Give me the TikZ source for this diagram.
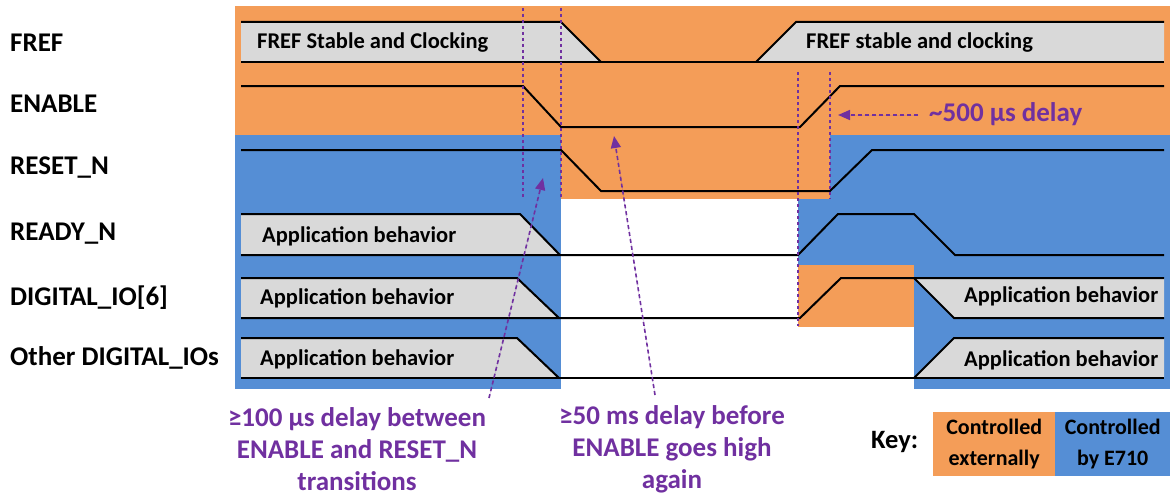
\documentclass[tikz,border=0pt]{standalone}
\usepackage{fontspec}
\setmainfont{Carlito}
\usetikzlibrary{arrows.meta}
\definecolor{extorange}{RGB}{244,157,88}
\definecolor{e710blue}{RGB}{85,142,213}
\definecolor{bandgray}{RGB}{217,217,217}
\definecolor{notepurple}{RGB}{112,48,160}
\begin{document}
\begin{tikzpicture}[x=1pt,y=-1pt,
  wave/.style={line width=2pt, line join=miter, draw=black},
  band/.style={fill=bandgray},
  siglabel/.style={anchor=west, inner sep=0pt, font=\bfseries\fontsize{27}{31}\selectfont},
  bandtext/.style={anchor=west, inner sep=0pt, font=\bfseries\fontsize{22.5}{26}\selectfont},
  marker/.style={draw=notepurple, line width=1.4pt, dash pattern=on 3pt off 3pt},
  note/.style={draw=notepurple, line width=1.6pt, dash pattern=on 4pt off 3pt,
    -{Triangle[length=12pt,width=10pt]}, fill=notepurple},
  notetext/.style={text=notepurple, align=center, inner sep=0pt,
    font=\bfseries\fontsize{27}{32}\selectfont},
  keybox/.style={minimum width=122pt, minimum height=64pt, inner sep=0pt, align=center,
    font=\bfseries\fontsize{22}{31}\selectfont}]
\useasboundingbox (0,0) rectangle (1170,495);

% ownership of the signals
\fill[extorange] (235,6) rectangle (1170,135);
\fill[e710blue] (235,135) rectangle (561,389);
\fill[e710blue] (798,135) rectangle (1170,389);
\fill[extorange] (561,135) rectangle (830,199);
\fill[extorange] (798,265) rectangle (914,327);
\fill[white] (798,327) rectangle (914,389);

% signal names
\node[siglabel] (lfref)  at (10,43)  {FREF};
\node[siglabel] (lenab)  at (10,104) {ENABLE};
\node[siglabel] (lrst)   at (10,168) {RESET\_N};
\node[siglabel] (lrdy)   at (10,234) {READY\_N};
\node[siglabel] (lio)    at (10,298) {DIGITAL\_IO[6]};
\node[siglabel] (lother) at (10,358) {Other DIGITAL\_IOs};

% FREF
\fill[band] (241,22) -- (561,22) -- (601,62) -- (241,62) -- cycle;
\fill[band] (756,62) -- (796,22) -- (1164,22) -- (1164,62) -- cycle;
\draw[wave] (241,22) -- (561,22) -- (601,62);
\draw[wave] (241,62) -- (1164,62);
\draw[wave] (756,62) -- (796,22) -- (1164,22);
\node[bandtext] (fref1) at (257,43) {FREF Stable and Clocking};
\node[bandtext] (fref2) at (806,43) {FREF stable and clocking};

% ENABLE
\draw[wave] (241,86) -- (523,86) -- (561,127) -- (800,127) -- (840,86) -- (1164,86);

% RESET_N
\draw[wave] (241,150) -- (561,150) -- (601,191) -- (830,191) -- (872,150) -- (1164,150);

% READY_N
\fill[band] (241,214) -- (520,214) -- (560,255) -- (241,255) -- cycle;
\draw[wave] (241,214) -- (520,214) -- (560,255);
\draw[wave] (241,255) -- (798,255) -- (838,214) -- (914,214) -- (955,255) -- (1164,255);
\node[bandtext] (rdy1) at (262,236) {Application behavior};

% DIGITAL_IO[6]
\fill[band] (241,278) -- (517,278) -- (559,318) -- (241,318) -- cycle;
\fill[band] (914,278) -- (1164,278) -- (1164,318) -- (954,318) -- cycle;
\draw[wave] (241,278) -- (517,278) -- (559,318);
\draw[wave] (241,318) -- (800,318) -- (841,278) -- (1164,278);
\draw[wave] (914,278) -- (954,318) -- (1164,318);
\node[bandtext] (io1) at (260,298) {Application behavior};
\node[bandtext] (io2) at (964,296) {Application behavior};

% Other DIGITAL_IOs
\fill[band] (241,338) -- (517,338) -- (559,378) -- (241,378) -- cycle;
\fill[band] (914,378) -- (954,338) -- (1164,338) -- (1164,378) -- cycle;
\draw[wave] (241,338) -- (517,338) -- (559,378);
\draw[wave] (241,378) -- (1164,378);
\draw[wave] (914,378) -- (954,338) -- (1164,338);
\node[bandtext] (oth1) at (260,359) {Application behavior};
\node[bandtext] (oth2) at (964,360) {Application behavior};

% timing markers
\draw[marker] (523,8) -- (523,197);
\draw[marker] (561,8) -- (561,197);
\draw[marker] (798,72) -- (798,326);
\draw[marker] (830,72) -- (830,199);

% annotations
\node[notetext] (n100) at (357,449) {≥100 µs delay between\\ENABLE and RESET\_N\\transitions};
\node[notetext] (n50) at (672,449) {≥50 ms delay before\\ENABLE goes high\\again};
\node[notetext, anchor=west] (n500) at (929,114) {\textasciitilde 500 µs delay};
\coordinate (a1tail) at (489,398);
\coordinate (a1tip) at (543,178);
\coordinate (a2tail) at (655,395);
\coordinate (a2tip) at (614,136);
\coordinate (a3tail) at (918,115);
\coordinate (a3tip) at (838,115);
\draw[note] (a1tail) -- (a1tip);
\draw[note] (a2tail) -- (a2tip);
\draw[note] (a3tail) -- (a3tip);

% key
\node[anchor=west, inner sep=0pt, font=\bfseries\fontsize{26.5}{30}\selectfont] (keylbl) at (871,442) {Key:};
\node[keybox, fill=extorange, anchor=north west] (kext) at (933,412) {Controlled\\externally};
\node[keybox, fill=e710blue, anchor=north west, minimum width=115pt] (kint) at (1055,412) {Controlled\\by E710};
\end{tikzpicture}
\end{document}
